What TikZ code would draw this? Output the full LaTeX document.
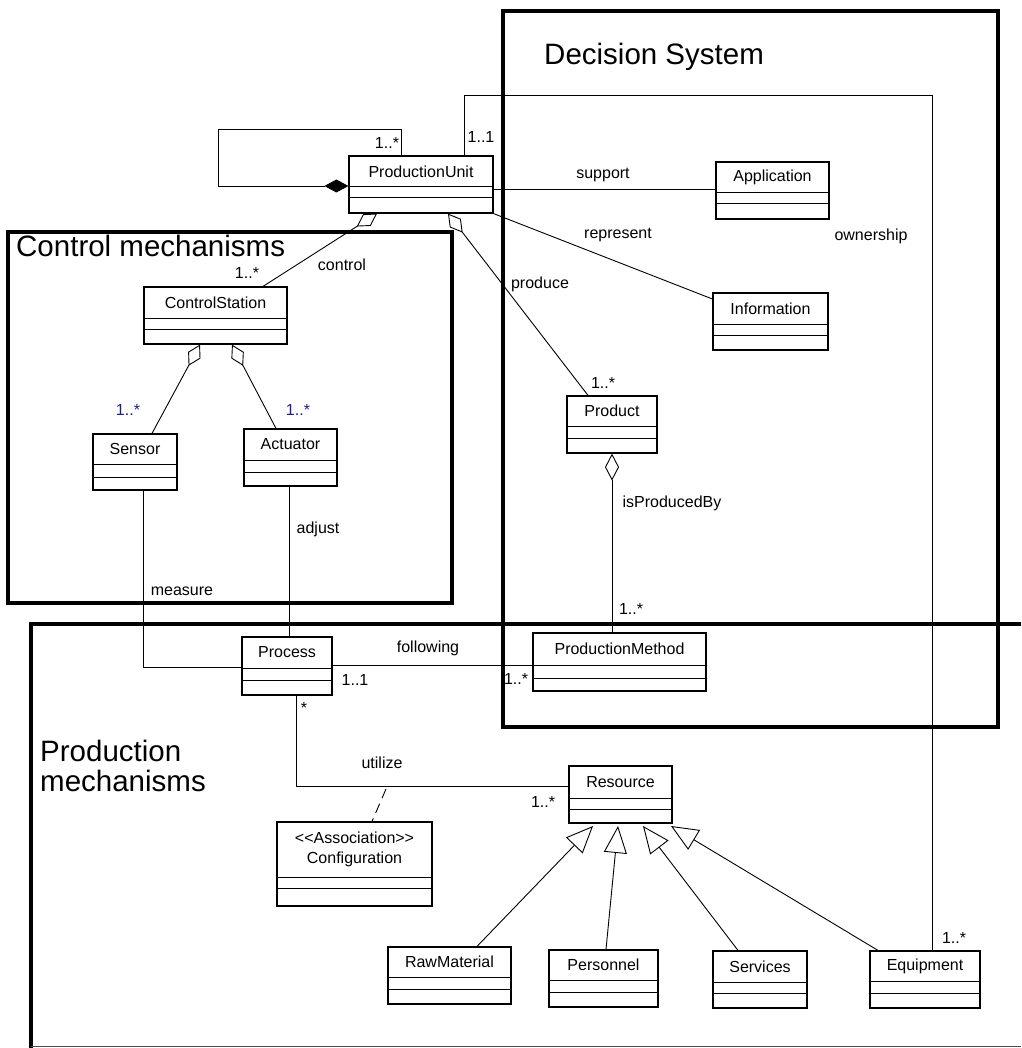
\documentclass[tikz,border=0pt]{standalone}
\usepackage{fontspec}
\setmainfont{Liberation Sans}
\usetikzlibrary{arrows.meta,fit}
\definecolor{multblue}{RGB}{28,28,140}

% UML class: name, x1, y1, x2, y2, first divider y, second divider y, class name
\newcommand\umlclass[8]{%
  \node[classbox, fit={(#2,#3) (#4,#5)}] (#1) {};
  \node[classname] (#1-name) at ({(#2+#4)/2},{(#3+#6)/2}) {#8};
  \draw[classline] (#1.west |- 0,#6) -- (#1.east |- 0,#6);
  \draw[classline] (#1.west |- 0,#7) -- (#1.east |- 0,#7);
}

\begin{document}
\begin{tikzpicture}[x=1pt,y=-1pt,
  classbox/.style={draw, line width=1.2pt, inner sep=0pt, fill=white},
  classname/.style={font=\fontsize{16}{20}\selectfont, inner sep=0pt, align=center},
  classline/.style={line width=1pt},
  frame/.style={line width=3.8pt},
  link/.style={line width=0.9pt},
  lbl/.style={font=\fontsize{16}{19}\selectfont, inner sep=0pt},
  bluelbl/.style={lbl, text=multblue},
  title/.style={font=\fontsize{29.5}{30}\selectfont, inner sep=0pt, anchor=base west},
  agg/.style={{Diamond[open,length=24pt,width=14pt]}-},
  comp/.style={-{Diamond[length=24pt,width=13pt]}},
  gen/.style={-{Triangle[open,length=27pt,width=23pt]}},
]
\useasboundingbox (0,0) rectangle (1021,1048);

% package frames
\draw[frame] (503,11) rectangle (998,727);
\draw[frame] (8,232) rectangle (452,603);
\draw[frame] (1021,624) -- (31,624) -- (31,1048);
\draw[line width=0.9pt, black!70] (31,1046) -- (1021,1046);

\node[title] (t-dec) at (544,65) {Decision System};
\node[title] (t-ctl) at (16,257) {Control mechanisms};
\node[title] (t-prod1) at (40,761) {Production};
\node[title] (t-prod2) at (40,791) {mechanisms};

% classes
\umlclass{pu}{349}{156}{493}{213}{187}{198}{ProductionUnit}
\umlclass{app}{716}{162}{829}{219}{193}{204}{Application}
\umlclass{info}{713}{293}{828}{350}{324}{335}{Information}
\umlclass{cs}{144}{287}{287}{344}{318}{329}{ControlStation}
\umlclass{sensor}{93}{434}{177}{490}{464}{477}{Sensor}
\umlclass{act}{244}{429}{337}{486}{460}{472}{Actuator}
\umlclass{product}{567}{396}{657}{453}{426}{438}{Product}
\umlclass{pm}{533}{633}{706}{691}{665}{678}{ProductionMethod}
\umlclass{process}{242}{637}{332}{695}{668}{680}{Process}
\umlclass{res}{569}{766}{672}{823}{798}{809}{Resource}
\umlclass{config}{277}{822}{432}{906}{877}{888}{\fontsize{16}{22}\selectfont <{}<Association>{}>\\Configuration}
\umlclass{raw}{388}{947}{511}{1004}{977}{989}{RawMaterial}
\umlclass{pers}{549}{950}{658}{1007}{980}{992}{Personnel}
\umlclass{serv}{713}{951}{807}{1008}{982}{993}{Services}
\umlclass{equip}{870}{951}{980}{1008}{981}{993}{Equipment}

% associations
\draw[link, comp] (401,0 |- pu.north) -- (401,129) -- (218,129) -- (218,186) -- (0,186 -| pu.west);
\draw[link] (464,0 |- pu.north) -- (464,95) -- (932,95) -- (932,0 |- equip.north);
\draw[link] (pu.east |- 0,189) -- (app.west |- 0,189);
\draw[link] (pu.south east) -- (0,299 -| info.west);
\draw[link, agg] (377,0 |- pu.south) -- (263,0 |- cs.north);
\draw[link, agg] (448,0 |- pu.south) -- (588,0 |- product.north);
\draw[link, agg] (200,0 |- cs.south) -- (152,0 |- sensor.north);
\draw[link, agg] (232,0 |- cs.south) -- (276,0 |- act.north);
\draw[link, {Diamond[open,length=27pt,width=14pt]}-] (612,0 |- product.south) -- (612,0 |- pm.north);
\draw[link] (143,0 |- sensor.south) -- (143,667) -- (0,667 -| process.west);
\draw[link] (289,0 |- act.south) -- (289,0 |- process.north);
\draw[link] (process.east |- 0,665) -- (pm.west |- 0,665);
\draw[link] (296,0 |- process.south) -- (296,786) -- (0,786 -| res.west);
\coordinate (assoc) at (386,789);
\draw[link, dash pattern=on 10pt off 6pt] (assoc) -- (372,0 |- config.north);

% generalizations
\draw[link, gen] (477,0 |- raw.north) -- (593,826);
\draw[link, gen] (606,0 |- pers.north) -- (618,826);
\draw[link, gen] (738,0 |- serv.north) -- (643,826);
\draw[link, gen] (878,0 |- equip.north) -- (671,826);

% role names and multiplicities
\node[lbl] (m-loop) at (387,143) {1..*};
\node[lbl] (m-own) at (481,137) {1..1};
\node[lbl] (l-support) at (603,175) {support};
\node[lbl] (l-represent) at (618,235) {represent};
\node[lbl] (l-ownership) at (871,236) {ownership};
\node[lbl] (l-produce) at (540,284) {produce};
\node[lbl] (l-control) at (342,265) {control};
\node[lbl] (m-cs) at (247,273) {1..*};
\node[bluelbl] (m-sensor) at (128,410) {1..*};
\node[bluelbl] (m-act) at (298,410) {1..*};
\node[lbl] (m-product) at (603,383) {1..*};
\node[lbl] (l-isprod) at (672,503) {isProducedBy};
\node[lbl] (m-pm) at (631,609) {1..*};
\node[lbl] (l-adjust) at (318,529) {adjust};
\node[lbl] (l-measure) at (182,591) {measure};
\node[lbl] (l-following) at (428,648) {following};
\node[lbl] (m-proc) at (355,680) {1..1};
\node[lbl] (m-pmleft) at (516,679) {1..*};
\node[lbl] (m-star) at (304,708) {*};
\node[lbl] (l-utilize) at (382,763) {utilize};
\node[lbl] (m-res) at (543,802) {1..*};
\node[lbl] (m-equip) at (954,938) {1..*};
\end{tikzpicture}
\end{document}
